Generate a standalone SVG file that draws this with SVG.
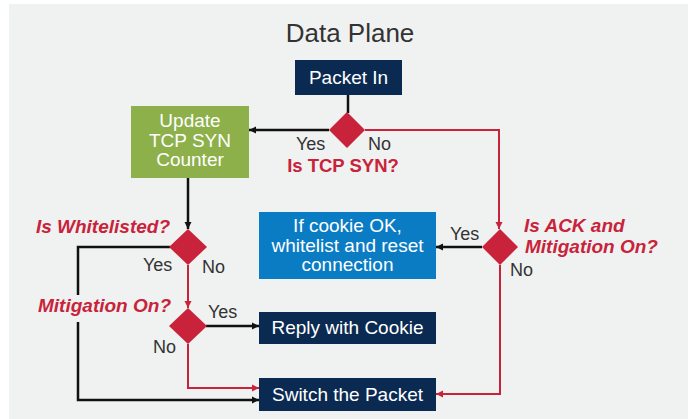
<svg xmlns="http://www.w3.org/2000/svg" width="692" height="419" viewBox="0 0 692 419">
  <defs>
    <style>
      .t { font-family: "Liberation Sans", Arial, sans-serif; }
      .box-txt { font-size: 19px; fill: #ffffff; text-anchor: middle; }
      .lbl { font-size: 18px; fill: #333333; }
      .q { font-size: 19px; fill: #c8233a; font-weight: 700; font-style: italic; }
      .navy { fill: #0b2a52; }
      .dia { fill: #c8233a; }
      .blk { fill: none; stroke: #111111; stroke-width: 2.5; }
      .red { fill: none; stroke: #c8233a; stroke-width: 2; }
    </style>
    <marker id="ab" markerUnits="userSpaceOnUse" markerWidth="8" markerHeight="8" refX="7" refY="4" orient="auto">
      <path d="M0,0.5 L7,4 L0,7.5 z" fill="#111111"/>
    </marker>
    <marker id="ar" markerUnits="userSpaceOnUse" markerWidth="8" markerHeight="8" refX="7" refY="4" orient="auto">
      <path d="M0,0.5 L7,4 L0,7.5 z" fill="#c8233a"/>
    </marker>
  </defs>

  <rect x="9" y="4" width="679" height="415" fill="#f0f1f1"/>
  <text class="t" x="350" y="42" text-anchor="middle" font-family="'Open Sans', 'Liberation Sans', sans-serif" font-weight="300" font-size="26" fill="#333333">Data Plane</text>

  <g id="connectors">
    <path class="blk" d="M348,95 L348,113"/>
    <path class="blk" d="M329,130 L249,130" marker-end="url(#ab)"/>
    <path class="red" d="M365,130 L499,130 L499,229" marker-end="url(#ar)"/>
    <path class="blk" d="M188,178 L188,229" marker-end="url(#ab)"/>
    <path class="blk" d="M170,247 L78,247 L78,295 M78,322 L78,400 L259,400" marker-end="url(#ab)"/>
    <path class="red" d="M188,265 L188,308" marker-end="url(#ar)"/>
    <path class="blk" d="M206,326 L259,326" marker-end="url(#ab)"/>
    <path class="red" d="M188,344 L188,388 L259,388" marker-end="url(#ar)"/>
    <path class="blk" d="M482,247 L436,247" marker-end="url(#ab)"/>
    <path class="red" d="M500,265 L500,394 L436,394" marker-end="url(#ar)"/>
  </g>

  <g id="packet-in">
    <rect class="navy" x="295" y="60" width="107" height="35"/>
    <text class="t box-txt" x="348.5" y="84" font-size="18.5">Packet In</text>
  </g>

  <g id="update-counter">
    <rect x="131" y="106" width="118" height="72" fill="#8db04a"/>
    <text class="t box-txt" x="190" y="127">Update</text>
    <text class="t box-txt" x="190" y="147">TCP SYN</text>
    <text class="t box-txt" x="190" y="166">Counter</text>
  </g>

  <g id="is-tcp-syn">
    <path class="dia" d="M347,112 L365,130 L347,148 L329,130 z"/>
    <text class="t lbl" x="296" y="150">Yes</text>
    <text class="t lbl" x="368" y="150">No</text>
    <text class="t" x="343" y="172" text-anchor="middle" font-size="18.5" font-weight="700" fill="#c8233a">Is TCP SYN?</text>
  </g>

  <g id="is-whitelisted">
    <path class="dia" d="M188,229 L207,247 L188,265 L169,247 z"/>
    <text class="t q" x="170" y="233" text-anchor="end">Is Whitelisted?</text>
    <text class="t lbl" x="143" y="271">Yes</text>
    <text class="t lbl" x="202" y="273">No</text>
  </g>

  <g id="mitigation-on">
    <path class="dia" d="M188,308 L207,326 L188,344 L169,326 z"/>
    <text class="t q" x="171" y="312" text-anchor="end">Mitigation On?</text>
    <text class="t lbl" x="208" y="318">Yes</text>
    <text class="t lbl" x="153" y="353">No</text>
  </g>

  <g id="is-ack">
    <path class="dia" d="M500,229 L518,247 L500,265 L482,247 z"/>
    <text class="t q" x="524" y="232">Is ACK and</text>
    <text class="t q" x="525" y="253">Mitigation On?</text>
    <text class="t lbl" x="450" y="240">Yes</text>
    <text class="t lbl" x="510" y="276">No</text>
  </g>

  <g id="cookie-ok">
    <rect x="259" y="212" width="177" height="67" fill="#0a7cc4"/>
    <text class="t box-txt" x="347.5" y="232" font-size="18">If cookie OK,</text>
    <text class="t box-txt" x="347.5" y="251.5" font-size="18">whitelist and reset</text>
    <text class="t box-txt" x="347.5" y="271" font-size="18">connection</text>
  </g>

  <g id="reply-cookie">
    <rect class="navy" x="259" y="312" width="177" height="32"/>
    <text class="t box-txt" x="347.5" y="334">Reply with Cookie</text>
  </g>

  <g id="switch-packet">
    <rect class="navy" x="259" y="378" width="177" height="33"/>
    <text class="t box-txt" x="347.5" y="401">Switch the Packet</text>
  </g>
</svg>
